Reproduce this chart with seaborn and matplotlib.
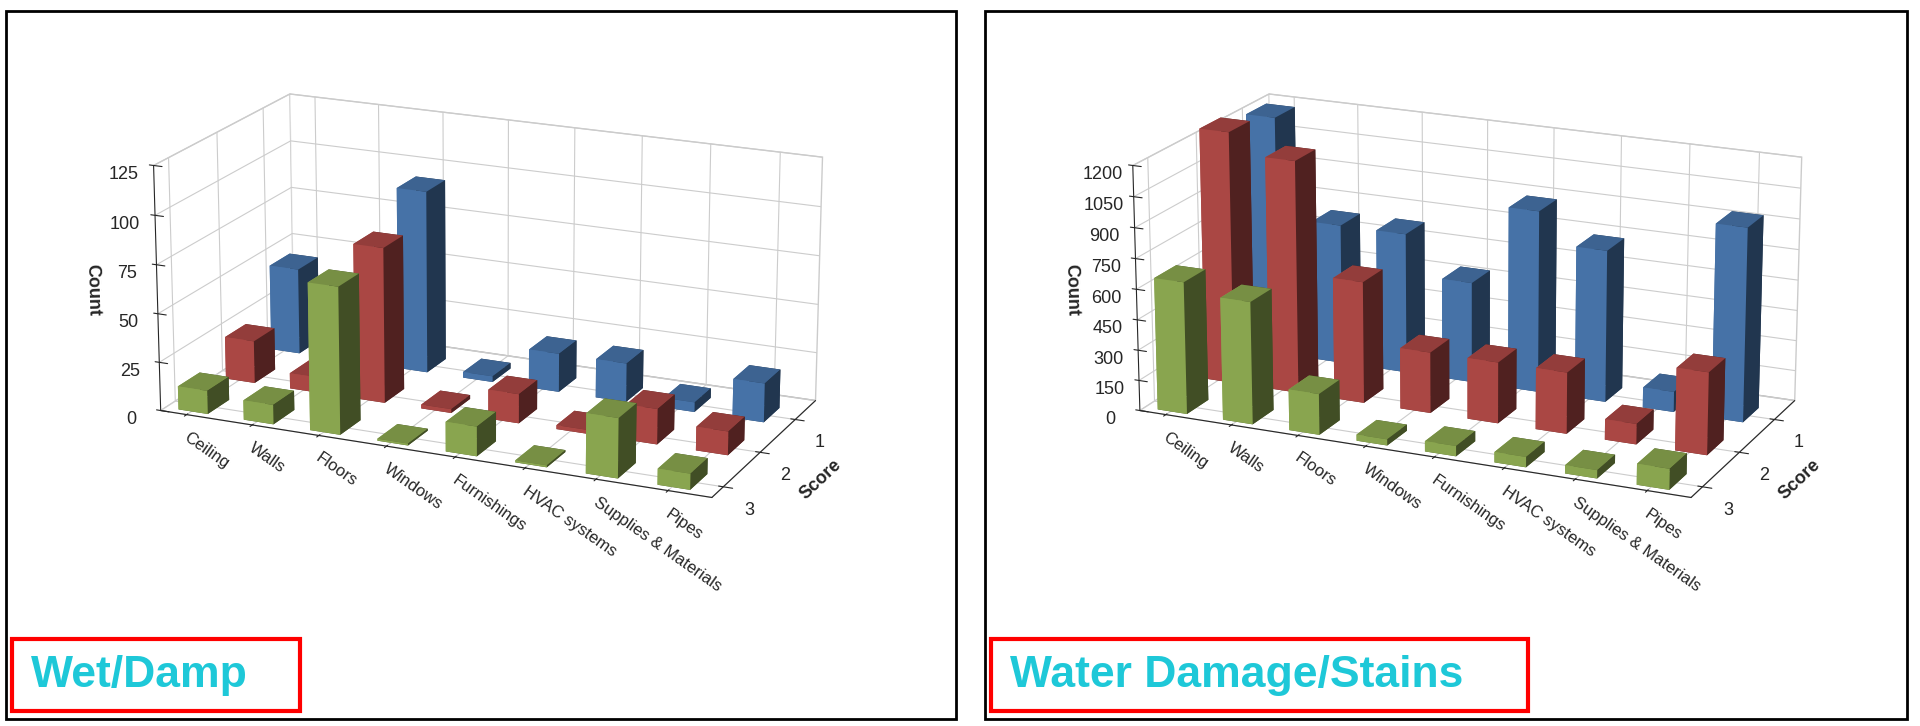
import numpy as np
import matplotlib
matplotlib.use("Agg")
import matplotlib.pyplot as plt
from matplotlib.patches import Rectangle
import seaborn as sns

sns.set_style("white")
plt.rcParams["font.family"] = "Liberation Sans"

categories = ["Ceiling", "Walls", "Floors", "Windows", "Furnishings", "HVAC systems", "Supplies & Materials", "Pipes"]
scores = ["1", "2", "3"]
colors = ["#4f81bd", "#c0504d", "#9bbb59"]

wet_s1 = [45, 0, 95, 3, 20, 20, 5, 20]
wet_s2 = [22, 8, 80, 2, 15, 2, 18, 12]
wet_s3 = [12, 10, 75, 1, 15, 1, 30, 8]

stain_s1 = [1200, 700, 700, 500, 900, 750, 100, 950]
stain_s2 = [1250, 1150, 600, 300, 300, 300, 100, 400]
stain_s3 = [650, 600, 200, 30, 50, 50, 40, 100]

fig = plt.figure(figsize=(19.2, 7.26), dpi=100)

def panel(rect, series, zmax, zstep, title, box):
    ax = fig.add_axes(rect, projection="3d")
    for j, vals in enumerate(series):
        xs = np.arange(len(categories))
        ys = np.full(len(categories), 2 - j)  # score 1 at back
        ax.bar3d(xs, ys, np.zeros(len(xs)), 0.45, 0.45, vals, color=colors[j], shade=True, edgecolor="none")
    ax.set_box_aspect((3.0, 1.5, 1.3))
    ax.set_xlim(-0.2, 7.8)
    ax.set_ylim(-0.1, 2.8)
    ax.set_xticks(np.arange(len(categories)) + 0.2)
    ax.set_xticklabels(categories, rotation=-35, ha="left", fontsize=12)
    ax.set_yticks([2.2, 1.2, 0.2])
    ax.set_yticklabels(scores, fontsize=13)
    ax.set_zlim(0, zmax)
    ax.set_zticks(np.arange(0, zmax + 1, zstep))
    ax.tick_params(axis="z", labelsize=13)
    ax.zaxis._axinfo["juggled"] = (1, 2, 0)
    ax.set_zlabel("Count", fontsize=13, fontweight="bold")
    ax.set_ylabel("Score", fontsize=13, fontweight="bold")
    ax.view_init(elev=18, azim=-66)
    for a in (ax.xaxis, ax.yaxis, ax.zaxis):
        a.pane.set_facecolor("white")
        a.pane.set_edgecolor("#999999")
    ax.grid(True)
    fig.patches.append(Rectangle(box[0], box[1], box[2], fill=False, edgecolor="black", lw=2, transform=fig.transFigure))
    tx, ty = box[0][0] + 0.003, 0.02
    fig.patches.append(Rectangle((tx, ty), box[3], 0.1, fill=False, edgecolor="red", lw=3, transform=fig.transFigure))
    fig.text(tx + 0.01, ty + 0.05, title, color="#1ec8d8", fontsize=32, fontweight="bold", va="center")

panel([0.0, 0.12, 0.5, 0.95], [wet_s1, wet_s2, wet_s3], 125, 25, "Wet/Damp",
      ((0.003, 0.01), 0.495, 0.975, 0.15))
panel([0.51, 0.12, 0.5, 0.95], [stain_s1, stain_s2, stain_s3], 1200, 150, "Water Damage/Stains",
      ((0.513, 0.01), 0.48, 0.975, 0.28))

fig.savefig("out.png", dpi=100, facecolor="white")
